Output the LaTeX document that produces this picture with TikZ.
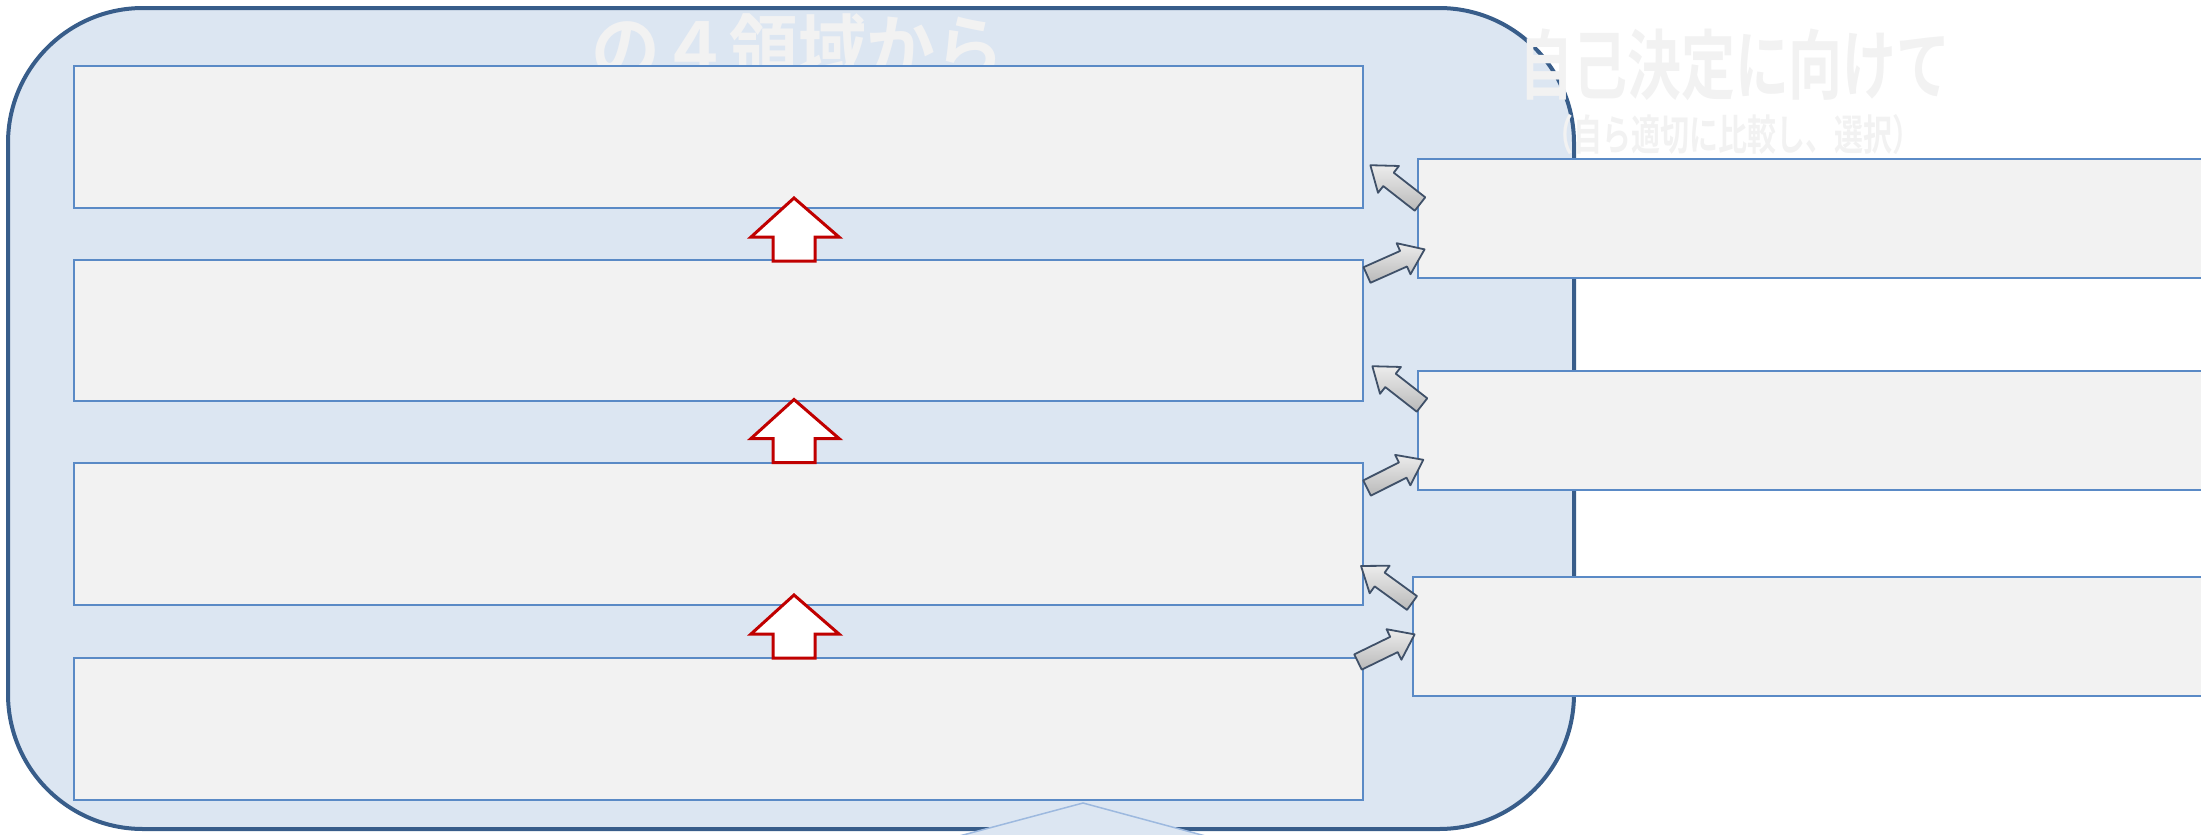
\documentclass[tikz,border=0pt]{standalone}
\usepackage{fontspec}
\newfontfamily\jpfont{Noto Sans CJK JP Bold}
\definecolor{outerfill}{HTML}{DCE6F2}
\definecolor{outerline}{HTML}{385D8A}
\definecolor{boxfill}{HTML}{F2F2F2}
\definecolor{boxline}{HTML}{5A8AC6}
\definecolor{txtcol}{HTML}{F2F2F2}
\definecolor{redline}{HTML}{C00000}
\definecolor{arrline}{HTML}{3F5068}
\definecolor{triline}{HTML}{9DB9DF}
\tikzset{
  outerbox/.style={draw=outerline, line width=4pt, fill=outerfill, rounded corners=135pt,
    anchor=north west, inner sep=0pt, outer sep=0pt},
  contentbox/.style={draw=boxline, line width=2pt, fill=boxfill, anchor=north west,
    inner sep=0pt, outer sep=0pt},
  uparrowstyle/.style={draw=redline, line width=3pt, fill=white, line join=miter},
  diagarrowstyle/.style={draw=arrline, line width=1.8pt, line join=round,
    shading=axis, top color=gray!15!white, middle color=white, bottom color=gray!55},
  bigtext/.style={text=txtcol, inner sep=0pt, anchor=base},
  uparr/.pic={
    \draw[uparrowstyle] (0,-31.5) -- (45,7.5) -- (21,7.5) -- (21,31.5) -- (-21,31.5)
      -- (-21,7.5) -- (-43,7.5) -- cycle;
  },
  diagarr/.pic={
    \draw[diagarrowstyle] (0,-8.5) -- (40,-8.5) -- (40,-17) -- (63,0) -- (40,17)
      -- (40,8.5) -- (0,8.5) -- cycle;
  }
}
\begin{document}
\begin{tikzpicture}[x=1pt, y=-1pt]
\useasboundingbox (0,0) rectangle (2201,835);
% outer rounded panel
\node[outerbox, minimum width=1566pt, minimum height=821pt] (outer) at (8,8) {};
% titles
\node[bigtext, xscale=0.93] (title) at (798,76) {\fontsize{74}{74}\jpfont の４領域から};
\node[bigtext, xscale=0.71] (rtitle) at (1735,93) {\fontsize{76}{76}\jpfont 自己決定に向けて};
\node[bigtext, xscale=0.69] (rsub) at (1733,150) {\fontsize{42}{42}\jpfont （自ら適切に比較し、選択）};
% left boxes
\node[contentbox, minimum width=1289pt, minimum height=142pt] (L1) at (74,66) {};
\node[contentbox, minimum width=1289pt, minimum height=141pt] (L2) at (74,260) {};
\node[contentbox, minimum width=1289pt, minimum height=142pt] (L3) at (74,463) {};
\node[contentbox, minimum width=1289pt, minimum height=142pt] (L4) at (74,658) {};
% right boxes
\node[contentbox, minimum width=800pt, minimum height=119pt] (R1) at (1418,159) {};
\node[contentbox, minimum width=800pt, minimum height=119pt] (R2) at (1418,371) {};
\node[contentbox, minimum width=805pt, minimum height=119pt] (R3) at (1413,577) {};
% up arrows
\pic (u1) at (794,229.5) {uparr};
\pic (u2) at (794,431) {uparr};
\pic (u3) at (794,626.5) {uparr};
% diagonal arrows (placed at their tails)
\pic[rotate=142] (d1) at (1420,204) {diagarr};
\pic[rotate=24] (d2) at (1367,275) {diagarr};
\pic[rotate=142] (d3) at (1422,405) {diagarr};
\pic[rotate=26.6] (d4) at (1367,488) {diagarr};
\pic[rotate=144] (d5) at (1412,603) {diagarr};
\pic[rotate=26] (d6) at (1358,662) {diagarr};
% bottom pointer
\coordinate (tA) at (925.5,845);
\coordinate (tB) at (1083,803);
\coordinate (tC) at (1239,845);
\fill[outerfill] (tA) -- (tB) -- (tC) -- cycle;
\draw[triline, line width=1.5pt] (tA) -- (tB) -- (tC);
\end{tikzpicture}
\end{document}
